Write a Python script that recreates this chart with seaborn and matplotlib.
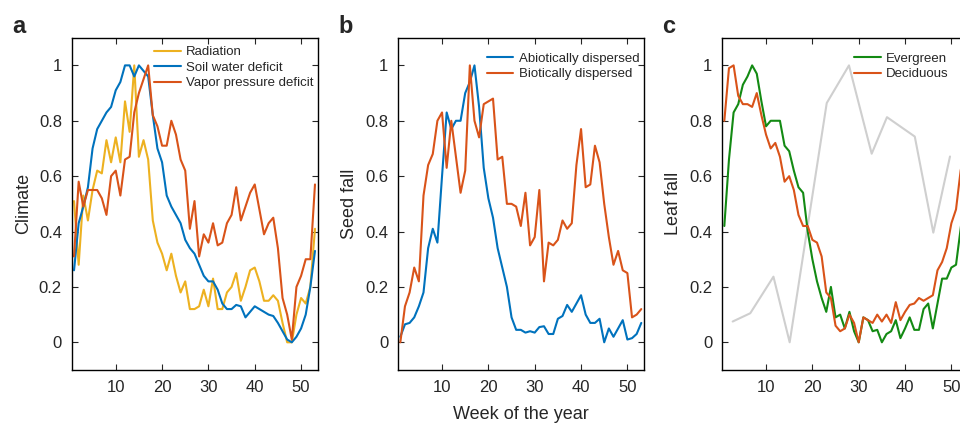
import seaborn as sns
import pandas as pd
import matplotlib.pyplot as plt
import numpy as np

weeks = list(range(1, 54))

# panel a - climate
radiation = [0.51, 0.28, 0.53, 0.44, 0.55, 0.62, 0.61, 0.73, 0.65, 0.74,
             0.65, 0.87, 0.76, 1.00, 0.67, 0.73, 0.66, 0.44, 0.36, 0.32,
             0.26, 0.32, 0.24, 0.18, 0.22, 0.12, 0.12, 0.13, 0.19, 0.13,
             0.23, 0.12, 0.12, 0.18, 0.20, 0.25, 0.15, 0.20, 0.26, 0.27,
             0.22, 0.15, 0.15, 0.17, 0.15, 0.07, 0.00, 0.00, 0.10, 0.16,
             0.14, 0.20, 0.41]
soil_water = [0.26, 0.43, 0.49, 0.56, 0.70, 0.77, 0.80, 0.83, 0.85, 0.91,
              0.94, 1.00, 1.00, 0.96, 1.00, 0.98, 0.96, 0.82, 0.70, 0.65,
              0.53, 0.49, 0.46, 0.43, 0.37, 0.34, 0.32, 0.28, 0.24, 0.22,
              0.22, 0.19, 0.14, 0.12, 0.12, 0.135, 0.13, 0.09, 0.11, 0.13,
              0.12, 0.11, 0.10, 0.095, 0.07, 0.04, 0.01, 0.00, 0.02, 0.05,
              0.10, 0.20, 0.33]
vapor = [0.31, 0.58, 0.49, 0.55, 0.55, 0.55, 0.52, 0.46, 0.60, 0.62,
         0.53, 0.66, 0.67, 0.83, 0.90, 0.95, 1.00, 0.82, 0.78, 0.71,
         0.71, 0.80, 0.75, 0.66, 0.62, 0.41, 0.51, 0.31, 0.39, 0.36,
         0.43, 0.35, 0.36, 0.43, 0.46, 0.56, 0.44, 0.49, 0.54, 0.57,
         0.48, 0.39, 0.43, 0.45, 0.34, 0.16, 0.10, 0.01, 0.20, 0.24,
         0.30, 0.30, 0.57]

# panel b - seed fall
abiotic = [0.02, 0.065, 0.07, 0.09, 0.13, 0.18, 0.34, 0.41, 0.36, 0.60,
           0.83, 0.77, 0.80, 0.80, 0.90, 0.94, 1.00, 0.85, 0.63, 0.52,
           0.45, 0.34, 0.27, 0.20, 0.09, 0.045, 0.045, 0.035, 0.04, 0.035,
           0.055, 0.058, 0.03, 0.03, 0.085, 0.095, 0.135, 0.11, 0.14, 0.17,
           0.10, 0.07, 0.07, 0.085, 0.00, 0.05, 0.02, 0.05, 0.08, 0.01,
           0.015, 0.03, 0.07]
biotic = [0.00, 0.13, 0.18, 0.27, 0.22, 0.53, 0.64, 0.68, 0.80, 0.83,
          0.63, 0.80, 0.67, 0.54, 0.62, 1.00, 0.80, 0.74, 0.86, 0.87,
          0.88, 0.66, 0.67, 0.50, 0.50, 0.49, 0.42, 0.54, 0.35, 0.38,
          0.55, 0.22, 0.36, 0.35, 0.37, 0.44, 0.41, 0.43, 0.64, 0.77,
          0.56, 0.57, 0.71, 0.65, 0.50, 0.38, 0.28, 0.33, 0.26, 0.25,
          0.09, 0.10, 0.12]

# panel c - leaf fall
evergreen = [0.42, 0.66, 0.83, 0.86, 0.93, 0.96, 1.00, 0.97, 0.87, 0.78,
             0.80, 0.80, 0.80, 0.71, 0.69, 0.62, 0.56, 0.54, 0.40, 0.30,
             0.22, 0.16, 0.11, 0.20, 0.09, 0.10, 0.05, 0.11, 0.04, 0.00,
             0.09, 0.08, 0.04, 0.045, 0.00, 0.03, 0.04, 0.08, 0.015, 0.05,
             0.09, 0.045, 0.045, 0.12, 0.14, 0.05, 0.14, 0.23, 0.23, 0.27,
             0.28, 0.41, 0.55]
deciduous = [0.80, 0.99, 1.00, 0.89, 0.86, 0.86, 0.85, 0.90, 0.82, 0.75,
             0.70, 0.72, 0.67, 0.58, 0.60, 0.55, 0.46, 0.42, 0.42, 0.37,
             0.36, 0.31, 0.18, 0.16, 0.06, 0.04, 0.05, 0.10, 0.07, 0.00,
             0.09, 0.08, 0.07, 0.10, 0.075, 0.10, 0.07, 0.145, 0.08, 0.11,
             0.135, 0.14, 0.16, 0.15, 0.16, 0.17, 0.26, 0.29, 0.34, 0.43,
             0.48, 0.62, 0.70]
gray_weeks = [2.8, 6.6, 11.6, 15.1, 23.1, 27.9, 32.8, 36.1, 42.1, 46.1, 49.7]
gray_vals = [0.075, 0.105, 0.237, 0.0, 0.864, 1.0, 0.681, 0.813, 0.743, 0.396, 0.671]

blue = '#0072BD'
orange = '#D95319'
yellow = '#EDB120'
green = '#138A13'

sns.set_style('ticks')
plt.rcParams['font.family'] = ['Liberation Sans', 'DejaVu Sans']


def long_df(series):
    rows = []
    for name, vals in series.items():
        for w, v in zip(weeks, vals):
            rows.append({'week': w, 'value': v, 'series': name})
    return pd.DataFrame(rows)


def style(ax, ylabel, legend_x, legend_y):
    ax.set_xlim(0.5, 53.6)
    ax.set_ylim(-0.1, 1.1)
    ax.set_xticks([10, 20, 30, 40, 50])
    ax.set_yticks([0, 0.2, 0.4, 0.6, 0.8, 1])
    ax.set_yticklabels(['0', '0.2', '0.4', '0.6', '0.8', '1'])
    ax.tick_params(direction='in', top=True, right=True, length=4, width=0.8,
                   labelsize=12, pad=7)
    for s in ax.spines.values():
        s.set_visible(True)
        s.set_linewidth(1)
        s.set_color('black')
    ax.set_ylabel(ylabel, fontsize=13, labelpad=5)
    ax.set_xlabel('')
    handles, labels = ax.get_legend_handles_labels()
    ax.legend(handles, labels, loc='upper left', bbox_to_anchor=(legend_x, legend_y),
              frameon=False, fontsize=9.5, handlelength=2.0, handletextpad=0.4,
              labelspacing=0.25, borderpad=0, borderaxespad=0)


fig = plt.figure(figsize=(9.6, 4.23), dpi=100)
ax_a = fig.add_axes([0.0747, 0.1253, 0.2563, 0.7856])
ax_b = fig.add_axes([0.4146, 0.1253, 0.2563, 0.7856])
ax_c = fig.add_axes([0.7521, 0.1253, 0.2563, 0.7856])

# a
df_a = long_df({'Radiation': radiation, 'Soil water deficit': soil_water,
                'Vapor pressure deficit': vapor})
sns.lineplot(data=df_a, x='week', y='value', hue='series', ax=ax_a, sort=False,
             palette=[yellow, blue, orange], linewidth=1.5)
style(ax_a, 'Climate', 0.335, 0.975)

# b
df_b = long_df({'Abiotically dispersed': abiotic, 'Biotically dispersed': biotic})
sns.lineplot(data=df_b, x='week', y='value', hue='series', ax=ax_b, sort=False,
             palette=[blue, orange], linewidth=1.5)
style(ax_b, 'Seed fall', 0.362, 0.955)
ax_b.set_xlabel('Week of the year', fontsize=13, labelpad=8)

# c
sns.lineplot(x=gray_weeks, y=gray_vals, ax=ax_c, color='#CFCFCF', linewidth=1.5,
             sort=False)
df_c = long_df({'Evergreen': evergreen, 'Deciduous': deciduous})
sns.lineplot(data=df_c, x='week', y='value', hue='series', ax=ax_c, sort=False,
             palette=[green, orange], linewidth=1.5)
style(ax_c, 'Leaf fall', 0.537, 0.955)

for ax, letter in [(ax_a, 'a'), (ax_b, 'b'), (ax_c, 'c')]:
    x0 = ax.get_position().x0
    fig.text(x0 - 0.062, 0.965, letter, fontsize=17, fontweight='bold', va='top', ha='left')

fig.savefig('out.png', dpi=100)
